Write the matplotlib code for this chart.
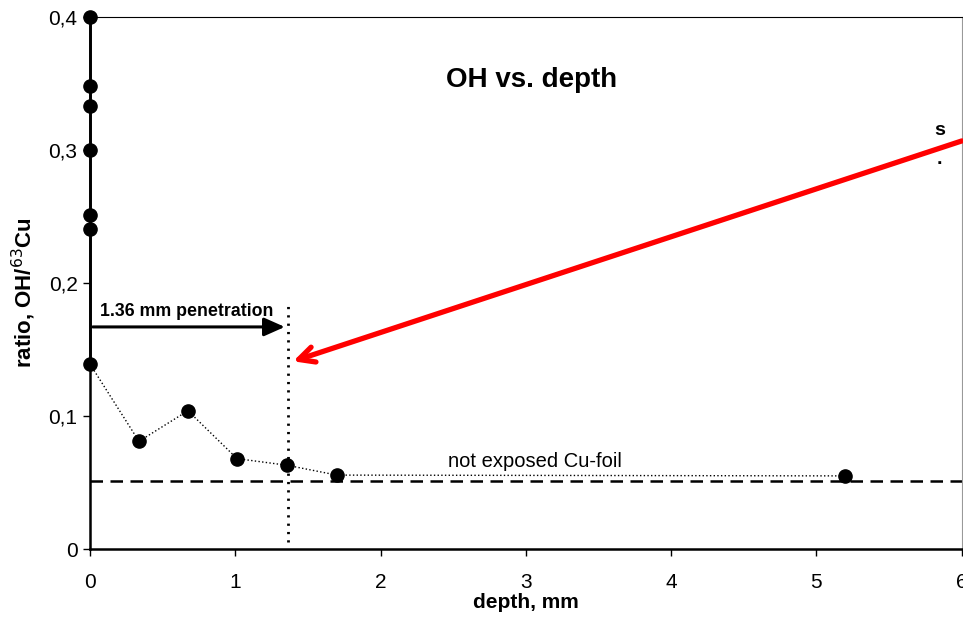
import matplotlib.pyplot as plt
from matplotlib.ticker import FuncFormatter

plt.rcParams['font.family'] = ['Liberation Sans', 'DejaVu Sans']

# measured OH/63Cu ratio vs depth
depth = [0, 0, 0, 0, 0, 0, 0, 0.337, 0.674, 1.012, 1.356, 1.70, 5.196]
ratio = [0.400, 0.348, 0.333, 0.300, 0.251, 0.241, 0.139,
         0.081, 0.104, 0.068, 0.063, 0.0556, 0.055]

background = 0.051       # not exposed Cu-foil level
penetration = 1.36       # mm
x_ticks = [0, 1, 2, 3, 4, 5, 6]
y_ticks = [0, 0.1, 0.2, 0.3, 0.4]

fig = plt.figure(figsize=(9.63, 6.19), dpi=100)
ax = fig.add_axes([0.0935, 0.113, 0.905, 0.8595])

# points at depth 0 joined by solid line, the rest by a thin dotted line
n0 = depth.count(0)
ax.plot(depth[:n0], ratio[:n0], color='black', lw=2, clip_on=False)
ax.plot(depth[n0 - 1:], ratio[n0 - 1:], color='black', lw=1, ls=':', clip_on=False)
ax.plot(depth, ratio, 'o', color='black', ms=9.5, clip_on=False, zorder=5)

ax.axhline(background, color='black', lw=1.8, ls=(0, (5, 3)))
ax.text(3.06, 0.0655, 'not exposed Cu-foil', fontsize=14.5, ha='center', va='center')

ax.plot([penetration, penetration], [0.005, 0.184], color='black', lw=2, ls=(0, (0.8, 2.2)))
ax.annotate('', xy=(penetration, 0.167), xytext=(0, 0.167),
            arrowprops=dict(arrowstyle='-|>,head_length=0.9,head_width=0.4',
                            color='black', lw=2.2, mutation_scale=14))
ax.text(0.07, 0.1785, '1.36 mm penetration', fontsize=12.8, fontweight='bold', va='center')

ax.annotate('', xy=(1.38, 0.1405), xytext=(6.02, 0.3075),
            arrowprops=dict(arrowstyle='->', color='#ff0000', lw=3.8, mutation_scale=28),
            annotation_clip=False)

ax.text(3.04, 0.3525, 'OH vs. depth', fontsize=20, fontweight='bold', ha='center', va='center')
ax.text(5.85, 0.315, 's', fontsize=14, fontweight='bold', ha='center', va='center')
ax.text(5.85, 0.293, '.', fontsize=14, fontweight='bold', ha='center', va='center')

ax.set_xlim(0, 6)
ax.set_ylim(0, 0.4)
ax.set_xticks(x_ticks)
ax.set_yticks(y_ticks)
ax.yaxis.set_major_formatter(FuncFormatter(lambda v, p: ('%g' % v).replace('.', ',')))
ax.tick_params(direction='out', length=5, width=1)
ax.tick_params(axis='x', labelsize=15, pad=12)
ax.tick_params(axis='y', labelsize=15, pad=4)

ax.set_xlabel('depth, mm', fontsize=15, fontweight='bold', labelpad=1)
ax.set_ylabel('ratio, OH/$^{63}$Cu', fontsize=16, fontweight='bold')
ax.yaxis.set_label_coords(-0.06, 0.483)

ax.spines['left'].set_linewidth(1.8)
ax.spines['bottom'].set_linewidth(1.8)
ax.spines['top'].set_linewidth(0.8)
ax.spines['right'].set_linewidth(0.8)
ax.spines['right'].set_color('#999999')

fig.savefig('out.png', dpi=100)
